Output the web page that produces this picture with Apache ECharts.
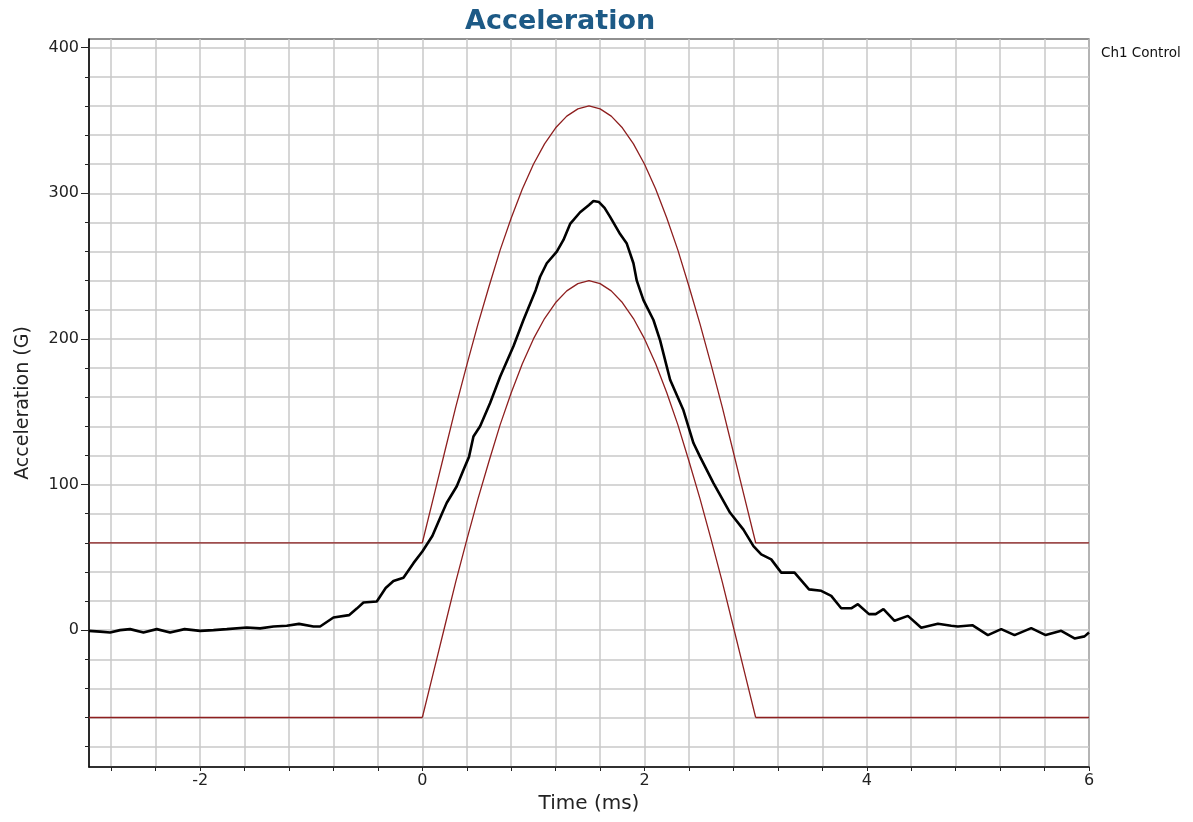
<!DOCTYPE html>
<html>
<head>
<meta charset="utf-8">
<script src="https://cdn.jsdelivr.net/npm/echarts@6/dist/echarts.min.js"></script>
<style>html,body{margin:0;padding:0;background:#fff}#c{width:1193px;height:822px}</style>
</head>
<body>
<div id="c"></div>
<script>
// ---- data ----
var limitTimes = [-3, 0, 0.1, 0.2, 0.3, 0.4, 0.5, 0.6, 0.7, 0.8, 0.9, 1.0, 1.1, 1.2, 1.3, 1.4, 1.5, 1.6, 1.7, 1.8, 1.9, 2.0, 2.1, 2.2, 2.3, 2.4, 2.5, 2.6, 2.7, 2.8, 2.9, 3.0, 6];
var upperLimit = [60, 60, 91, 122, 153, 182, 210, 236, 261, 283, 303, 320, 334, 345, 353, 358, 360, 358, 353, 345, 334, 320, 303, 283, 261, 236, 210, 182, 153, 122, 91, 60, 60];
var lowerLimit = [-60, -60, -29, 2, 33, 62, 90, 116, 141, 163, 183, 200, 214, 225, 233, 238, 240, 238, 233, 225, 214, 200, 183, 163, 141, 116, 90, 62, 33, 2, -29, -60, -60];

var controlTimes = [-3.00, -2.90, -2.81, -2.72, -2.63, -2.51, -2.39, -2.27, -2.14, -2.00, -1.88, -1.76, -1.58, -1.46, -1.34, -1.22, -1.11, -0.98, -0.92, -0.80, -0.66, -0.59, -0.53, -0.41, -0.33, -0.26, -0.17, -0.08, 0.00, 0.09, 0.18, 0.22, 0.31, 0.37, 0.42, 0.46, 0.52, 0.61, 0.70, 0.82, 0.91, 1.02, 1.06, 1.12, 1.21, 1.27, 1.33, 1.42, 1.50, 1.54, 1.59, 1.64, 1.69, 1.78, 1.84, 1.90, 1.93, 1.99, 2.08, 2.14, 2.20, 2.23, 2.35, 2.44, 2.50, 2.62, 2.77, 2.89, 2.98, 3.05, 3.14, 3.23, 3.35, 3.48, 3.59, 3.68, 3.77, 3.86, 3.92, 4.02, 4.08, 4.15, 4.25, 4.37, 4.49, 4.64, 4.76, 4.82, 4.95, 5.09, 5.21, 5.33, 5.48, 5.61, 5.75, 5.87, 5.96, 6.00];
var controlValues = [-0.5, -1, -1.6, 0, 0.7, -1.6, 0.7, -1.6, 0.7, -0.5, 0, 0.7, 1.8, 1.2, 2.5, 3, 4.3, 2.5, 2.5, 8.7, 10.3, 14.8, 19, 19.7, 29, 33.8, 36, 46, 54, 64.6, 80.6, 87.5, 98.8, 110, 119, 133, 140, 156, 174, 195, 213, 233.5, 242.7, 252, 260, 268, 279, 287, 292, 294.7, 294, 290, 283.8, 272, 265.5, 252, 240, 226.7, 213, 199, 181, 172, 151, 128.5, 119, 101, 80.6, 69, 57.7, 52, 48.6, 39.5, 39.5, 28, 27, 23.5, 15, 15, 17.8, 11, 11, 14.4, 6.4, 9.8, 1.6, 4.4, 3, 2.5, 3.4, -3.4, 0.7, -3.4, 1.4, -3.4, -0.5, -5.7, -4.3, -1.6];

var xGridTicks = [-2.8, -2.4, -2.0, -1.6, -1.2, -0.8, -0.4, 0, 0.4, 0.8, 1.2, 1.6, 2.0, 2.4, 2.8, 3.2, 3.6, 4.0, 4.4, 4.8, 5.2, 5.6, 6.0];
var xLabels = [-2, 0, 2, 4, 6];
var yGridTicks = [-80, -60, -40, -20, 0, 20, 40, 60, 80, 100, 120, 140, 160, 180, 200, 220, 240, 260, 280, 300, 320, 340, 360, 380, 400];
var yLabels = [0, 100, 200, 300, 400];

function pairs(xs, ys) { return xs.map(function (x, i) { return [x, ys[i]]; }); }

var lowerPts = pairs(limitTimes, lowerLimit);
var n = lowerPts.length;
function redSeries(name, data, z) {
  return { type: 'line', name: name, data: data, showSymbol: false, symbol: 'none',
           lineStyle: { color: '#8e1f1f', width: 1.3 }, itemStyle: { color: '#8e1f1f' }, z: z };
}

var chart = echarts.init(document.getElementById('c'), null, { renderer: 'canvas' });
var FONT = 'DejaVu Sans';
chart.setOption({
  animation: false,
  backgroundColor: '#fff',
  title: [
    { text: 'Acceleration', left: 460, top: 3,
      textStyle: { fontFamily: FONT, fontWeight: 'bold', fontSize: 27, color: '#1d5a86' } },
    { text: 'Ch1 Control', left: 1096, top: 41,
      textStyle: { fontFamily: FONT, fontWeight: 'normal', fontSize: 13.5, color: '#111' } }
  ],
  grid: { left: 89, right: 104, top: 39, bottom: 55, show: true, borderColor: '#222', borderWidth: 1.2, backgroundColor: 'transparent' },
  xAxis: [{
    type: 'value', min: -3, max: 6,
    name: 'Time (ms)', nameLocation: 'middle', nameGap: 25,
    nameTextStyle: { fontFamily: FONT, fontSize: 20, color: '#222' },
    axisLine: { show: true, onZero: false, lineStyle: { color: '#111', width: 1.5 } },
    axisTick: { show: true, length: 4, customValues: xGridTicks, lineStyle: { color: '#222' } },
    axisLabel: { customValues: xLabels, fontFamily: FONT, fontSize: 16, color: '#222', margin: 6 },
    splitLine: { show: true, lineStyle: { color: '#c8c8c8', width: 1.5 } }
  }],
  yAxis: [{
    type: 'value', min: -94, max: 406,
    name: 'Acceleration (G)', nameLocation: 'middle', nameGap: 56, nameRotate: 90,
    nameTextStyle: { fontFamily: FONT, fontSize: 19, color: '#222' },
    axisLine: { show: true, onZero: false, lineStyle: { color: '#111', width: 1.5 } },
    axisTick: { show: true, length: 4, customValues: yGridTicks, lineStyle: { color: '#222' } },
    axisLabel: { customValues: yLabels, fontFamily: FONT, fontSize: 16, color: '#222', margin: 10 },
    splitLine: { show: true, lineStyle: { color: '#c8c8c8', width: 1.5 } }
  }, {
    type: 'value', min: -94, max: 406, position: 'left',
    axisLine: { show: false, onZero: false },
    axisTick: { show: true, length: 8, customValues: yLabels, lineStyle: { color: '#222' } },
    axisLabel: { show: false },
    splitLine: { show: false }
  }],
  series: [
    redSeries('Upper', pairs(limitTimes, upperLimit), 5),
    redSeries('Lower pulse', lowerPts.slice(1, n - 1), 5),
    { type: 'line', name: 'Ch1 Control', data: pairs(controlTimes, controlValues), showSymbol: false, symbol: 'none',
      lineStyle: { color: '#000', width: 2.6 }, z: 6 },
    redSeries('Lower pre', lowerPts.slice(0, 2), 8),
    redSeries('Lower post', lowerPts.slice(n - 2), 8)
  ]
});
</script>
</body>
</html>
